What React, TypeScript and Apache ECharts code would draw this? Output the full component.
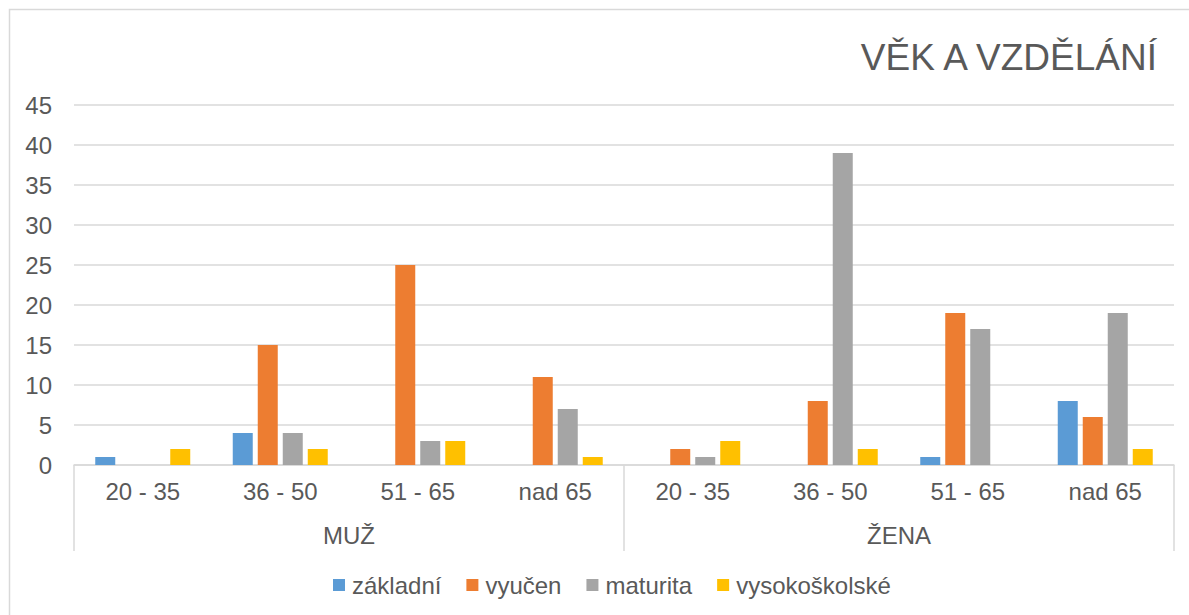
import React, { useEffect, useRef } from "react";
import * as echarts from "echarts";

const ageGroups = ["20 - 35", "36 - 50", "51 - 65", "nad 65", "20 - 35", "36 - 50", "51 - 65", "nad 65"];
const genders = ["MUŽ", "ŽENA"];
const seriesNames = ["základní", "vyučen", "maturita", "vysokoškolské"];
const zakladni = [1, 4, 0, 0, 0, 0, 1, 8];
const vyucen = [0, 15, 25, 11, 2, 8, 19, 6];
const maturita = [0, 4, 3, 7, 1, 39, 17, 19];
const vysokoskolske = [2, 2, 3, 1, 3, 2, 0, 2];
const colors = ["#5b9bd5", "#ed7d31", "#a5a5a5", "#ffc000"];
const titleText = "VĚK A VZDĚLÁNÍ";

const FONT = "Liberation Sans, Arial, sans-serif";
const TEXT = "#595959";
const LINE = "#d9d9d9";

export default function App() {
  const ref = useRef<HTMLDivElement>(null);
  useEffect(() => {
    if (!ref.current) return;
    const chart = echarts.init(ref.current, undefined, { renderer: "svg" });
    const values = [zakladni, vyucen, maturita, vysokoskolske];
    chart.setOption({
      animation: false,
      backgroundColor: "#ffffff",
      textStyle: { fontFamily: FONT },
      graphic: [
        {
          type: "rect",
          shape: { x: 9.5, y: 9.5, width: 1300, height: 800 },
          style: { fill: "none", stroke: LINE, lineWidth: 1.5 },
          silent: true,
        },
        {
          type: "text",
          x: 1157,
          y: 57,
          style: {
            text: titleText,
            fill: TEXT,
            fontSize: 37,
            fontFamily: FONT,
            align: "right",
            verticalAlign: "middle",
          },
        },
      ],
      grid: { left: 74, right: 15, top: 105, bottom: 150, containLabel: false },
      legend: {
        bottom: 13,
        left: 328,
        itemWidth: 12,
        itemHeight: 12,
        itemGap: 25,
        icon: "rect",
        data: seriesNames,
        textStyle: { color: TEXT, fontSize: 24, fontFamily: FONT, padding: [0, 0, 0, 2] },
      },
      xAxis: [
        {
          type: "category",
          data: ageGroups,
          axisLine: { show: true, lineStyle: { color: LINE, width: 1.5 } },
          axisTick: { show: false },
          axisLabel: { color: TEXT, fontSize: 24, margin: 14, fontFamily: FONT, interval: 0 },
        },
        {
          type: "category",
          data: genders,
          position: "bottom",
          axisLine: { show: false },
          axisTick: { show: true, length: 86, lineStyle: { color: LINE, width: 1.5 } },
          axisLabel: { color: TEXT, fontSize: 24, margin: 58, fontFamily: FONT, interval: 0 },
        },
      ],
      yAxis: {
        type: "value",
        min: 0,
        max: 45,
        interval: 5,
        axisLine: { show: false },
        axisTick: { show: false },
        splitLine: { lineStyle: { color: LINE, width: 1.5 } },
        axisLabel: { color: TEXT, fontSize: 24, margin: 22, fontFamily: FONT },
      },
      series: seriesNames.map((name, i) => ({
        name,
        type: "bar",
        xAxisIndex: 0,
        data: values[i],
        barWidth: 20,
        barGap: "25%",
        itemStyle: { color: colors[i] },
      })),
    });
    return () => chart.dispose();
  }, []);
  return (
    <div
      ref={ref}
      style={{ position: "fixed", left: 0, top: 0, width: 1189, height: 615 }}
    />
  );
}
